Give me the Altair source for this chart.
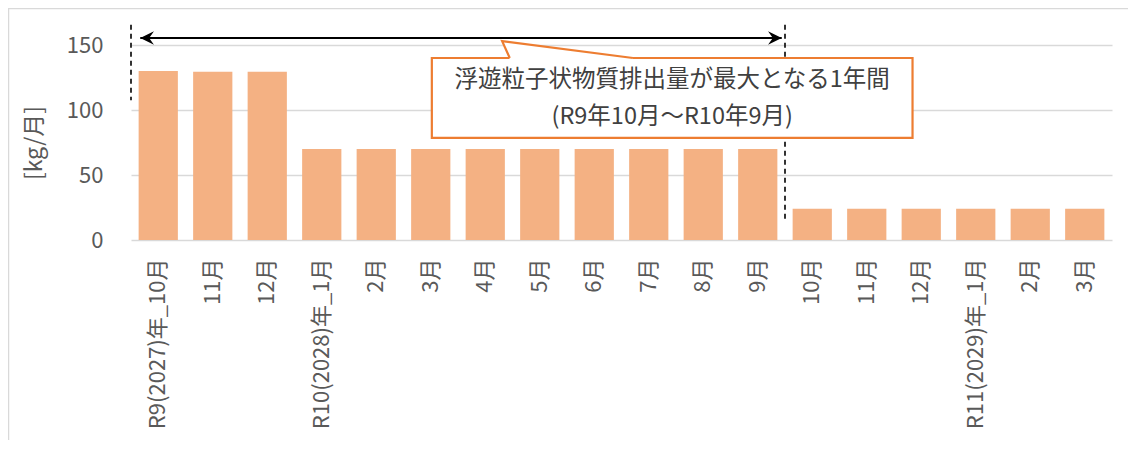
import altair as alt
import pandas as pd

# ---- data ----
labels = ["R9(2027)年_10月", "11月", "12月", "R10(2028)年_1月", "2月", "3月",
          "4月", "5月", "6月", "7月", "8月", "9月", "10月", "11月", "12月",
          "R11(2029)年_1月", "2月", "3月"]
values = [130, 129.5, 129.5, 70, 70, 70, 70, 70, 70, 70, 70, 70,
          24, 24, 24, 24, 24, 24]
y_ticks = [0, 50, 100, 150]
y_title = "[kg/月]"
note_line1 = "浮遊粒子状物質排出量が最大となる1年間"
note_line2 = "(R9年10月～R10年9月)"

N = len(labels)
W, H = 981, 195
FONT = "Noto Sans CJK JP"
TXT = "#595959"
YDOM = [0, 150]

bars_df = pd.DataFrame({"idx": list(range(N)), "v": values})
label_expr = "[" + ",".join("'" + s + "'" for s in labels) + "][datum.value]"

def ys():
    return alt.Scale(domain=YDOM, nice=False, zero=True)

def xq():
    return alt.Scale(domain=[0, N], nice=False, zero=False)

bars = alt.Chart(bars_df).mark_bar(color="#F4B183").encode(
    x=alt.X("idx:O", sort=None,
            scale=alt.Scale(paddingInner=0.28, paddingOuter=0.14),
            axis=alt.Axis(title=None, labelExpr=label_expr, labelAngle=-90,
                          labelAlign="right", labelBaseline="middle",
                          labelFont=FONT, labelFontSize=22, labelColor=TXT,
                          labelPadding=18, ticks=False, domain=False,
                          grid=False, labelOverlap=False)),
    y=alt.Y("v:Q", scale=ys(),
            axis=alt.Axis(title=y_title, values=y_ticks, grid=True,
                          gridColor="#d9d9d9", gridWidth=1.3,
                          domain=False, ticks=False,
                          labelFont=FONT, labelFontSize=22, labelColor=TXT,
                          labelPadding=28, titleFont=FONT, titleFontSize=23,
                          titleColor=TXT, titleFontWeight="normal",
                          titlePadding=20)),
)

# annotation geometry in band units (x) and data units (y)
border_df = pd.DataFrame({"x": [-2.248], "x2": [20.0], "y": [178.0], "y2": [-170.0]})
border = alt.Chart(border_df).mark_rect(fillOpacity=0, stroke="#d9d9d9",
                                        strokeWidth=1.5).encode(
    x=alt.X("x:Q", scale=xq(), axis=None), x2="x2:Q",
    y=alt.Y("y:Q", scale=ys(), axis=None), y2="y2:Q")

dash_df = pd.DataFrame({"x": [0.0, 12.0], "y": [165.5, 165.5], "y2": [107.5, 13.8]})
dashes = alt.Chart(dash_df).mark_rule(color="black", strokeWidth=1.6,
                                      strokeDash=[5, 4]).encode(
    x=alt.X("x:Q", scale=xq(), axis=None),
    y=alt.Y("y:Q", scale=ys(), axis=None), y2="y2:Q")

arrow_df = pd.DataFrame({"x": [0.17], "x2": [11.94], "y": [155.4]})
arrow = alt.Chart(arrow_df).mark_rule(color="black", strokeWidth=1.8).encode(
    x=alt.X("x:Q", scale=xq(), axis=None), x2="x2:Q",
    y=alt.Y("y:Q", scale=ys(), axis=None))

head_l_df = pd.DataFrame({"x": [0.17], "y": [155.4]})
head_r_df = pd.DataFrame({"x": [11.94], "y": [155.4]})
head_l = alt.Chart(head_l_df).mark_point(
    shape="M 0 0 L 1 -0.5 L 0.65 0 L 1 0.5 Z", filled=True, color="black",
    size=750, opacity=1).encode(
    x=alt.X("x:Q", scale=xq(), axis=None), y=alt.Y("y:Q", scale=ys(), axis=None))
head_r = alt.Chart(head_r_df).mark_point(
    shape="M 0 0 L -1 -0.5 L -0.65 0 L -1 0.5 Z", filled=True, color="black",
    size=750, opacity=1).encode(
    x=alt.X("x:Q", scale=xq(), axis=None), y=alt.Y("y:Q", scale=ys(), axis=None))

box_df = pd.DataFrame({"x": [5.52], "x2": [14.34], "y": [140.0], "y2": [78.5]})
box = alt.Chart(box_df).mark_rect(fill="white", stroke="#ED7D31",
                                  strokeWidth=2.2).encode(
    x=alt.X("x:Q", scale=xq(), axis=None), x2="x2:Q",
    y=alt.Y("y:Q", scale=ys(), axis=None), y2="y2:Q")

wedge_fill_df = pd.DataFrame({"x": [6.81, 6.95, 9.21],
                              "y": [153.0, 152.24, 140.0],
                              "y2": [153.0, 139.0, 139.0]})
wedge_fill = alt.Chart(wedge_fill_df).mark_area(color="white", opacity=1).encode(
    x=alt.X("x:Q", scale=xq(), axis=None),
    y=alt.Y("y:Q", scale=ys(), axis=None), y2="y2:Q")

wedge_line_df = pd.DataFrame({"x": [6.95, 6.81, 9.21], "y": [140.0, 153.0, 140.0],
                              "o": [0, 1, 2]})
wedge_line = alt.Chart(wedge_line_df).mark_line(color="#ED7D31",
                                                strokeWidth=2.2).encode(
    x=alt.X("x:Q", scale=xq(), axis=None),
    y=alt.Y("y:Q", scale=ys(), axis=None), order="o:Q")

text_df = pd.DataFrame({"x": [9.93, 9.93], "y": [123.0, 94.8],
                        "t": [note_line1, note_line2]})
texts = alt.Chart(text_df).mark_text(font=FONT, fontSize=23.5, color="#404040",
                                     align="center", baseline="middle").encode(
    x=alt.X("x:Q", scale=xq(), axis=None),
    y=alt.Y("y:Q", scale=ys(), axis=None), text="t:N")

chart = alt.layer(
    border, bars, dashes, arrow, head_l, head_r, box, wedge_fill, wedge_line, texts
).resolve_scale(x="independent", y="independent").properties(
    width=W, height=H,
    autosize=alt.AutoSizeParams(type="none"),
    padding={"left": 123, "top": 37, "right": 16, "bottom": 200},
    background="white",
).configure_view(stroke=None)

chart.save("out.html", embed_options={"renderer": "svg", "actions": False})
